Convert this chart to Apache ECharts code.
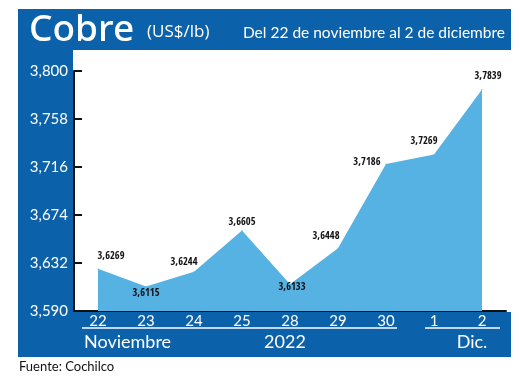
<!DOCTYPE html>
<html>
<head>
<meta charset="utf-8">
<script src="https://cdn.jsdelivr.net/npm/echarts@6/dist/echarts.min.js"></script>
<style>
html,body{margin:0;padding:0;background:#fff;}
#chart{width:520px;height:378px;}
</style>
</head>
<body>
<div id="chart"></div>
<script>
// ---- data ----
const categories = ['22', '23', '24', '25', '28', '29', '30', '1', '2'];
const prices = [3.6269, 3.6115, 3.6244, 3.6605, 3.6133, 3.6448, 3.7186, 3.7269, 3.7839];
const yTicks = [3.590, 3.632, 3.674, 3.716, 3.758, 3.800];
// label placement per point (style only)
const labelPos = ['top', 'bottom', 'top', 'top', 'bottom', 'top', 'left', 'top', 'top'];
const labelOff = [[13, -2], [0, -4], [-10, 2], [0, 3], [2, -8], [-12, -1], [0, -2], [-10, -2], [6, -2]];

const PANEL = '#0c62aa';
const AREA = '#55b2e2';
const fmt = (v, d) => v.toFixed(d).replace('.', ',');

const chart = echarts.init(document.getElementById('chart'), null, {renderer: 'canvas'});

const seriesData = prices.map((v, i) => ({
  value: v,
  label: {show: true, position: labelPos[i], offset: labelOff[i]}
}));

chart.setOption({
  animation: false,
  backgroundColor: '#ffffff',
  graphic: [
    {type: 'rect', z: -10, shape: {x: 18, y: 9, width: 493, height: 41}, style: {fill: PANEL}},
    {type: 'rect', z: -10, shape: {x: 18, y: 9, width: 55, height: 348}, style: {fill: PANEL}},
    {type: 'rect', z: -10, shape: {x: 18, y: 312, width: 493, height: 45}, style: {fill: PANEL}},
    {type: 'text', x: 29, y: 30, style: {text: 'Cobre', fill: '#fff', font: '500 37px "Noto Sans", sans-serif', verticalAlign: 'middle'}},
    {type: 'text', x: 147, y: 32, style: {text: '(US$/lb)', fill: '#fff', font: '17px "Open Sans", sans-serif', verticalAlign: 'middle'}},
    {type: 'text', x: 505, y: 33, style: {text: 'Del 22 de noviembre al 2 de diciembre', fill: '#fff', font: '15.5px Lato, sans-serif', align: 'right', verticalAlign: 'middle'}},
    {type: 'line', shape: {x1: 82, y1: 328, x2: 397, y2: 328}, style: {stroke: '#fff', lineWidth: 1.5}},
    {type: 'line', shape: {x1: 425, y1: 328, x2: 500, y2: 328}, style: {stroke: '#fff', lineWidth: 1.5}},
    {type: 'text', x: 84, y: 342, style: {text: 'Noviembre', fill: '#fff', font: '18px Lato, sans-serif', verticalAlign: 'middle'}},
    {type: 'text', x: 285, y: 342, style: {text: '2022', fill: '#fff', font: '18px Lato, sans-serif', align: 'center', verticalAlign: 'middle'}},
    {type: 'text', x: 472, y: 342, style: {text: 'Dic.', fill: '#fff', font: '18px Lato, sans-serif', align: 'center', verticalAlign: 'middle'}},
    {type: 'text', x: 19, y: 367, style: {text: 'Fuente: Cochilco', fill: '#111', font: '13px Lato, sans-serif', verticalAlign: 'middle'}}
  ],
  grid: {left: 74, right: 14, top: 71, bottom: 67, containLabel: false},
  xAxis: {
    type: 'category',
    data: categories,
    boundaryGap: true,
    axisLine: {show: true, lineStyle: {color: '#111', width: 2}},
    axisTick: {show: false},
    axisLabel: {color: '#fff', fontFamily: 'Lato', fontSize: 15, margin: 3, interval: 0},
    splitLine: {show: false}
  },
  yAxis: {
    type: 'value',
    min: 3.59,
    max: 3.80,
    axisLine: {show: true, onZero: false, lineStyle: {color: '#111', width: 2}},
    axisTick: {show: true, inside: true, length: 8, customValues: yTicks, lineStyle: {color: '#111', width: 2}},
    axisLabel: {customValues: yTicks, color: '#fff', fontFamily: 'Lato', fontSize: 15, margin: 6,
      formatter: v => fmt(v, 3)},
    splitLine: {show: false}
  },
  series: [{
    type: 'line',
    data: seriesData,
    symbol: 'circle',
    symbolSize: 1,
    showSymbol: true,
    itemStyle: {color: AREA, opacity: 1},
    lineStyle: {width: 0, color: AREA},
    areaStyle: {color: AREA, opacity: 1, origin: 'start'},
    label: {
      show: true,
      opacity: 1,
      color: '#111',
      fontFamily: '"Open Sans Condensed", "Roboto Condensed", sans-serif',
      fontWeight: 'bold',
      fontSize: 10.5,
      formatter: p => fmt(p.value, 4)
    },
    z: 2
  }]
});
</script>
</body>
</html>
